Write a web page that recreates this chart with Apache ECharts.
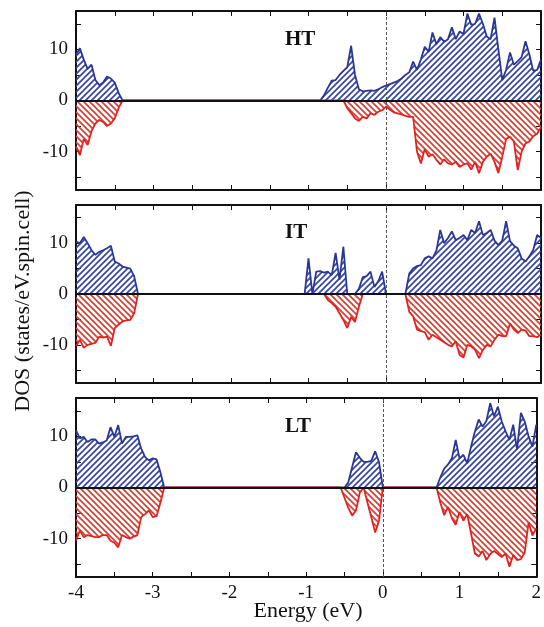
<!DOCTYPE html>
<html>
<head>
<meta charset="utf-8">
<script src="https://cdn.jsdelivr.net/npm/echarts@6/dist/echarts.min.js"></script>
<style>
html,body{margin:0;padding:0;background:#fff;}
#chart{width:544px;height:627px;}
</style>
</head>
<body>
<div id="chart"></div>
<script>
// Energy grid (eV)
const energy = [
-4.00,-3.95,-3.90,-3.85,-3.80,-3.75,-3.70,-3.65,-3.60,-3.55,
-3.50,-3.45,-3.40,-3.35,-3.30,-3.25,-3.20,-3.15,-3.10,-3.05,
-3.00,-2.95,-2.90,-2.85,-2.80,-2.75,-2.70,-2.65,-2.60,-2.55,
-2.50,-2.45,-2.40,-2.35,-2.30,-2.25,-2.20,-2.15,-2.10,-2.05,
-2.00,-1.95,-1.90,-1.85,-1.80,-1.75,-1.70,-1.65,-1.60,-1.55,
-1.50,-1.45,-1.40,-1.35,-1.30,-1.25,-1.20,-1.15,-1.10,-1.05,
-1.00,-0.95,-0.90,-0.85,-0.80,-0.75,-0.70,-0.65,-0.60,-0.55,
-0.50,-0.45,-0.40,-0.35,-0.30,-0.25,-0.20,-0.15,-0.10,-0.05,
0.00,0.05,0.10,0.15,0.20,0.25,0.30,0.35,0.40,0.45,
0.50,0.55,0.60,0.65,0.70,0.75,0.80,0.85,0.90,0.95,
1.00,1.05,1.10,1.15,1.20,1.25,1.30,1.35,1.40,1.45,
1.50,1.55,1.60,1.65,1.70,1.75,1.80,1.85,1.90,1.95,
2.00];

// HT panel
const htUp = [
9,10.2,8,6.2,7,4,3,3.5,4.7,4.3,
3.5,1.5,0,0,0,0,0,0,0,0,
0,0,0,0,0,0,0,0,0,0,
0,0,0,0,0,0,0,0,0,0,
0,0,0,0,0,0,0,0,0,0,
0,0,0,0,0,0,0,0,0,0,
0,0,0,0,1,2.5,3.9,4,5,5.8,
6.5,10.7,5,2.2,1.8,1.9,2,1.9,2.2,2.6,
2.9,3.2,3.5,3.8,4.3,5,5.5,7.6,6,8,
10.5,9.5,13.3,11,12.4,11.5,12,14.3,12,13.5,
13,17,14.8,15,17,15,12.5,12,16.2,10,
4,6,9.4,7,7.7,8.5,11.6,9,5.8,6,
8];
const htDown = [
-9,-10.7,-7.5,-8.7,-6,-4.5,-3.8,-4.2,-5,-4.5,
-3.5,-1.5,0,0,0,0,0,0,0,0,
0,0,0,0,0,0,0,0,0,0,
0,0,0,0,0,0,0,0,0,0,
0,0,0,0,0,0,0,0,0,0,
0,0,0,0,0,0,0,0,0,0,
0,0,0,0,0,0,0,0,0,0,
-1.5,-2.5,-3.5,-4,-3.2,-3.5,-2.5,-2.8,-2.2,-1.9,
-1.2,-1.8,-2.3,-2.5,-2.7,-3,-3.2,-3.2,-10,-12.3,
-9.5,-11,-10.5,-11.6,-12.5,-11.5,-12.3,-12.5,-12,-13,
-12.5,-12.3,-13.5,-12,-14.2,-12,-11,-10.4,-12,-14.2,
-11,-7.5,-7.1,-8,-13.6,-10,-8.4,-8,-7,-6.5,
-5.2];

// IT panel
const itUp = [
10.3,10,11.2,10,8.6,7.7,8.3,8.6,9,9.5,
6.4,6,5.4,5.2,5,3.5,0,0,0,0,
0,0,0,0,0,0,0,0,0,0,
0,0,0,0,0,0,0,0,0,0,
0,0,0,0,0,0,0,0,0,0,
0,0,0,0,0,0,0,0,0,0,
7,0,4.4,4.5,4.2,4.4,3.7,8.1,2.8,9.3,
0,0,0,1,3.3,3.5,4.4,1.4,2.5,4.4,
0,0,0,0,0,0,4,5,5.5,5.7,
7,7.4,7,8.5,12.6,10,11,12.3,10.6,11,
11.6,10.6,12.6,12,14.3,11.6,12,12.6,10.5,9.6,
10.5,14.3,10.4,9.5,9,7,6.4,7.4,8.7,11.6,
11];
const itDown = [
-10.3,-9,-10.6,-10,-9.8,-9.6,-8.4,-8.6,-8.4,-10.2,
-6.7,-6,-5.4,-5.2,-5.1,-3.8,0,0,0,0,
0,0,0,0,0,0,0,0,0,0,
0,0,0,0,0,0,0,0,0,0,
0,0,0,0,0,0,0,0,0,0,
0,0,0,0,0,0,0,0,0,0,
0,0,0,0,0,-1.2,-1.8,-2.5,-3.8,-5.1,
-6.7,-4.5,-5.5,-2.5,0,0,0,0,0,0,
0,0,0,0,0,0,-3.5,-4.4,-7,-7.3,
-7.5,-9,-8,-8.5,-9,-9.5,-10,-10.3,-9.3,-12,
-12.5,-10,-10.3,-11,-12.6,-11,-10,-10.3,-9,-8,
-8.3,-8.3,-5.8,-7,-7.7,-7,-7.2,-8.3,-8.3,-8.5,
-8];

// LT panel
const ltUp = [
11.2,9.6,9.9,8.9,9.4,9.4,8.6,8.8,9.2,11.8,
9.9,12.2,8.6,9.9,9.9,10,10.2,7.6,6,5.3,
5.7,5.5,3,0,0,0,0,0,0,0,
0,0,0,0,0,0,0,0,0,0,
0,0,0,0,0,0,0,0,0,0,
0,0,0,0,0,0,0,0,0,0,
0,0,0,0,0,0,0,0,0,0,
0,1,4,6.9,5.8,5,5,5.2,7.1,5,
0,0,0,0,0,0,0,0,0,0,
0,0,0,0,0,2,3.7,4.5,5.7,9.3,
5.7,6.4,4.7,8,10.9,13.3,11.9,13,16.5,13.9,
15.8,12.9,11,9.3,12.3,7.4,14.6,12.9,10,8,
12.3];
const ltDown = [
-10.4,-8.4,-9.7,-9.3,-9.5,-9.7,-9.7,-9.3,-9.3,-10.4,
-10.8,-11.7,-9.3,-9.7,-10,-9.6,-9.3,-5.8,-5.2,-4.5,
-5.8,-5.6,-3,0,0,0,0,0,0,0,
0,0,0,0,0,0,0,0,0,0,
0,0,0,0,0,0,0,0,0,0,
0,0,0,0,0,0,0,0,0,0,
0,0,0,0,0,0,0,0,0,0,
-2,-4,-5.5,-4.5,-1,0,-3,-5.8,-8.8,-6.5,
0,0,0,0,0,0,0,0,0,0,
0,0,0,0,0,-3,-5.4,-3.8,-6,-7.3,
-4.8,-6.5,-5.2,-9,-12.9,-13.5,-12.4,-14.2,-13,-12.4,
-13,-13.6,-12.9,-15.5,-13.2,-14.2,-14,-12.7,-6.8,-9.4,
-8];

const panelNames = ['HT','IT','LT'];
const xTicks = [-4,-3,-2,-1,0,1,2];
const yTickValues = [-15,-10,-5,0,5,10,15];
const yLabelValues = [-10,0,10];

const panels = [
  {name: panelNames[0], up: htUp, down: htDown, top: 11, height: 179, labelTop: 29},
  {name: panelNames[1], up: itUp, down: itDown, top: 205, height: 178, labelTop: 222},
  {name: panelNames[2], up: ltUp, down: ltDown, top: 398, height: 179, labelTop: 416}
];

const FONT = 'Liberation Serif, DejaVu Serif, serif';
const BLUE = '#2b3893';
const RED = '#e3221f';

function hatch(color, forward) {
  const s = 6;
  const c = document.createElement('canvas');
  c.width = s; c.height = s;
  const g = c.getContext('2d');
  g.strokeStyle = color;
  g.lineWidth = 1.7;
  g.beginPath();
  if (forward) {
    g.moveTo(-1, s + 1); g.lineTo(s + 1, -1);
    g.moveTo(-1, 1); g.lineTo(1, -1);
    g.moveTo(s - 1, s + 1); g.lineTo(s + 1, s - 1);
  } else {
    g.moveTo(-1, -1); g.lineTo(s + 1, s + 1);
    g.moveTo(s - 1, -1); g.lineTo(s + 1, 1);
    g.moveTo(-1, s - 1); g.lineTo(1, s + 1);
  }
  g.stroke();
  return c;
}
const blueHatch = hatch('#3646a8', true);
const redHatch = hatch('#e33a36', false);

const grids = [], xAxes = [], yAxes = [], series = [];
const axisLineStyle = {color: '#111', width: 2};

panels.forEach((p, gi) => {
  grids.push({left: 76, right: 3, top: p.top, height: p.height});
  ['bottom', 'top'].forEach(pos => {
    xAxes.push({
      type: 'value', gridIndex: gi, position: pos, min: -4, max: 2, interval: 0.5,
      axisLine: {show: true, onZero: false, lineStyle: axisLineStyle},
      axisTick: {show: true, inside: true, length: 5, lineStyle: {color: '#111', width: 1}},
      axisLabel: {
        show: gi === 2 && pos === 'bottom',
        formatter: v => (xTicks.indexOf(Math.round(v * 1000) / 1000) >= 0 ? String(Math.round(v)) : ''),
        fontFamily: FONT, fontSize: 19, color: '#111', margin: 7
      },
      splitLine: {show: false}
    });
  });
  ['left', 'right'].forEach(pos => {
    yAxes.push({
      type: 'value', gridIndex: gi, position: pos, min: -17.5, max: 17.5,
      axisLine: {show: true, onZero: false, lineStyle: axisLineStyle},
      axisTick: {show: true, inside: true, length: 5, customValues: yTickValues, lineStyle: {color: '#111', width: 1}},
      axisLabel: {
        show: pos === 'left', customValues: yLabelValues,
        fontFamily: FONT, fontSize: 19, color: '#111', margin: 8
      },
      splitLine: {show: false}
    });
  });
  const xi = gi * 2, yi = gi * 2;
  series.push({
    type: 'line', xAxisIndex: xi, yAxisIndex: yi,
    data: energy.map((e, i) => [e, p.up[i]]),
    symbol: 'none', silent: true, animation: false,
    lineStyle: {color: BLUE, width: 1.8},
    areaStyle: {color: {image: blueHatch, repeat: 'repeat'}, opacity: 1, origin: 0},
    z: 2
  });
  series.push({
    type: 'line', xAxisIndex: xi, yAxisIndex: yi,
    data: energy.map((e, i) => [e, p.down[i]]),
    symbol: 'none', silent: true, animation: false,
    lineStyle: {color: RED, width: 1.8},
    areaStyle: {color: {image: redHatch, repeat: 'repeat'}, opacity: 1, origin: 0},
    z: 2
  });
  series.push({
    type: 'line', xAxisIndex: xi, yAxisIndex: yi, data: [],
    symbol: 'none', silent: true, animation: false, z: 5,
    markLine: {
      silent: true, symbol: 'none', animation: false, label: {show: false},
      data: [
        {xAxis: 0, lineStyle: {color: '#555', width: 1, type: [3, 2]}},
        {yAxis: 0, lineStyle: {color: '#111', width: 2.2, type: 'solid'}}
      ]
    }
  });
});

const chart = echarts.init(document.getElementById('chart'), null, {renderer: 'canvas'});
chart.setOption({
  animation: false,
  backgroundColor: '#fff',
  grid: grids,
  xAxis: xAxes,
  yAxis: yAxes,
  series: series,
  title: panels.map(p => ({
    text: p.name, left: 285, top: p.labelTop, padding: 0,
    textStyle: {fontFamily: FONT, fontWeight: 'bold', fontSize: 21, color: '#111'}
  })),
  graphic: [
    {type: 'text', x: 23, y: 301, rotation: Math.PI / 2,
     style: {text: 'DOS (states/eV.spin.cell)', font: '22px ' + FONT, fill: '#111', align: 'center', verticalAlign: 'middle'}},
    {type: 'text', x: 308, y: 611,
     style: {text: 'Energy (eV)', font: '22px ' + FONT, fill: '#111', align: 'center', verticalAlign: 'middle'}}
  ]
});
</script>
</body>
</html>
